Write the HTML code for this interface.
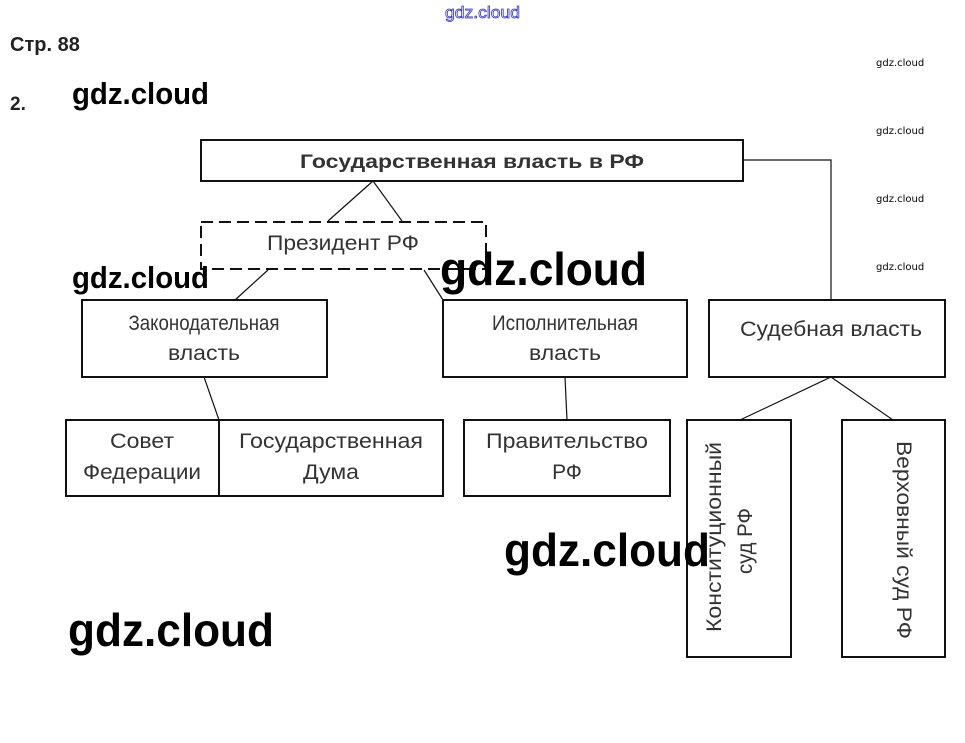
<!DOCTYPE html>
<html><head><meta charset="utf-8"><style>html,body{margin:0;padding:0;background:#fff}svg{display:block}</style></head><body>
<svg width="965" height="743" viewBox="0 0 965 743" xmlns="http://www.w3.org/2000/svg" font-family="Liberation Sans, sans-serif">
<g fill="none" stroke="#111" stroke-width="2">
<rect x="201" y="140" width="542" height="41"/>
<rect x="201" y="222" width="285" height="47" stroke-dasharray="12,6"/>
<rect x="82" y="300" width="245" height="77"/>
<rect x="443" y="300" width="244" height="77"/>
<rect x="709" y="300" width="236" height="77"/>
<rect x="66" y="420" width="377" height="76"/>
<line x1="219" y1="420" x2="219" y2="496"/>
<rect x="464" y="420" width="206" height="76"/>
<rect x="687" y="420" width="104" height="237"/>
<rect x="842" y="420" width="103" height="237"/>
</g>
<g stroke="#111" stroke-width="1.2" fill="none">
<line x1="373" y1="181" x2="328" y2="221"/><line x1="373" y1="181" x2="402" y2="221"/>
<line x1="268" y1="270" x2="235" y2="300"/><line x1="424" y1="270" x2="443" y2="300"/>
<polyline points="743,160 831,160 831,300"/>
<line x1="204" y1="377" x2="219" y2="420"/>
<line x1="565" y1="377" x2="567" y2="420"/>
<line x1="831" y1="377" x2="740" y2="420"/><line x1="831" y1="377" x2="893" y2="420"/>
</g>
<g fill="#333" font-size="21" text-anchor="middle">
<text x="472" y="168" font-weight="bold" font-size="19" textLength="344" lengthAdjust="spacingAndGlyphs">Государственная власть в РФ</text>
<text x="343" y="250" textLength="152" lengthAdjust="spacingAndGlyphs">Президент РФ</text>
<text x="204" y="330" textLength="151" lengthAdjust="spacingAndGlyphs">Законодательная</text>
<text x="204" y="360" textLength="72" lengthAdjust="spacingAndGlyphs">власть</text>
<text x="565" y="330" textLength="146" lengthAdjust="spacingAndGlyphs">Исполнительная</text>
<text x="565" y="360" textLength="72" lengthAdjust="spacingAndGlyphs">власть</text>
<text x="831" y="336" textLength="182" lengthAdjust="spacingAndGlyphs">Судебная власть</text>
<text x="142" y="448" textLength="64" lengthAdjust="spacingAndGlyphs">Совет</text>
<text x="142" y="479" textLength="118" lengthAdjust="spacingAndGlyphs">Федерации</text>
<text x="331" y="448" textLength="184" lengthAdjust="spacingAndGlyphs">Государственная</text>
<text x="331" y="479" textLength="56" lengthAdjust="spacingAndGlyphs">Дума</text>
<text x="567" y="448" textLength="162" lengthAdjust="spacingAndGlyphs">Правительство</text>
<text x="567" y="479">РФ</text>
<text transform="translate(721,537) rotate(-90)" textLength="190" lengthAdjust="spacingAndGlyphs">Конституционный</text>
<text transform="translate(752,541) rotate(-90)" textLength="66" lengthAdjust="spacingAndGlyphs">суд РФ</text>
<text transform="translate(897,540) rotate(90)" textLength="198" lengthAdjust="spacingAndGlyphs">Верховный суд РФ</text>
</g>
<g fill="#222" font-weight="bold">
<text x="10" y="51" font-size="20">Стр. 88</text>
<text x="10" y="110" font-size="19">2.</text>
</g>
<g fill="#000" font-family="Liberation Sans, sans-serif" font-weight="bold">
<text x="72" y="104" font-size="31" textLength="137" lengthAdjust="spacingAndGlyphs">gdz.cloud</text>
<text x="72" y="288" font-size="31" textLength="137" lengthAdjust="spacingAndGlyphs">gdz.cloud</text>
<text x="440" y="285" font-size="46" textLength="207" lengthAdjust="spacingAndGlyphs">gdz.cloud</text>
<text x="504" y="566" font-size="46" textLength="206" lengthAdjust="spacingAndGlyphs">gdz.cloud</text>
<text x="68" y="646" font-size="46" textLength="206" lengthAdjust="spacingAndGlyphs">gdz.cloud</text>
</g>
<g fill="#000" font-size="10" font-family="DejaVu Sans, sans-serif">
<text x="876" y="66">gdz.cloud</text><text x="876" y="134">gdz.cloud</text>
<text x="876" y="202">gdz.cloud</text><text x="876" y="270">gdz.cloud</text>
</g>
<text x="445" y="18" font-size="17" fill="#fff" stroke="#3333cc" stroke-width="0.8" textLength="75" lengthAdjust="spacingAndGlyphs">gdz.cloud</text>
</svg>
</body></html>
